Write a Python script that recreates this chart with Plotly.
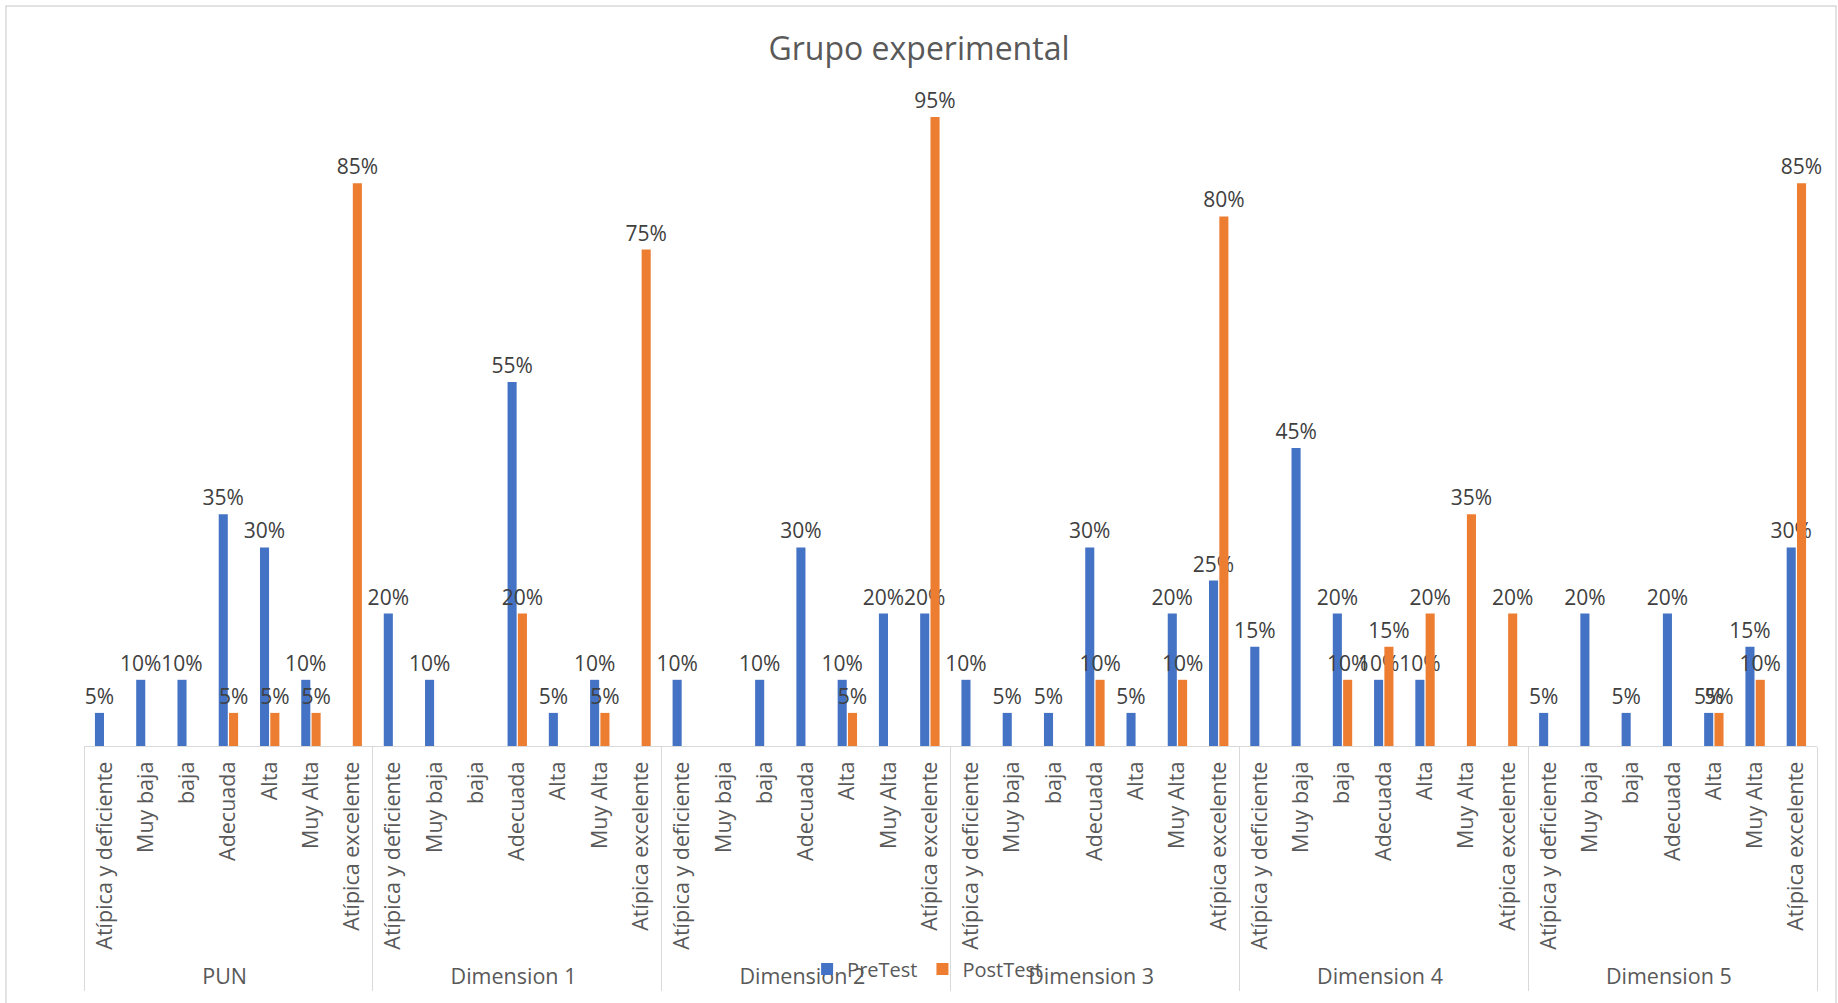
import plotly.graph_objects as go

groups = ["PUN", "Dimension 1", "Dimension 2", "Dimension 3", "Dimension 4", "Dimension 5"]
levels = ["Atípica y deficiente", "Muy baja", "baja", "Adecuada", "Alta", "Muy Alta", "Atípica excelente"]

# percentages per group, in order of levels (None = no bar / no label)
pretest_pun = [5, 10, 10, 35, 30, 10, None]
pretest_d1 = [20, 10, None, 55, 5, 10, None]
pretest_d2 = [10, None, 10, 30, 10, 20, 20]
pretest_d3 = [10, 5, 5, 30, 5, 20, 25]
pretest_d4 = [15, 45, 20, 10, 10, None, None]
pretest_d5 = [5, 20, 5, 20, 5, 15, 30]

posttest_pun = [None, None, None, 5, 5, 5, 85]
posttest_d1 = [None, None, None, 20, None, 5, 75]
posttest_d2 = [None, None, None, None, 5, None, 95]
posttest_d3 = [None, None, None, 10, None, 10, 80]
posttest_d4 = [None, None, 10, 15, 20, 35, 20]
posttest_d5 = [None, None, None, None, 5, 10, 85]

pretest = [pretest_pun, pretest_d1, pretest_d2, pretest_d3, pretest_d4, pretest_d5]
posttest = [posttest_pun, posttest_d1, posttest_d2, posttest_d3, posttest_d4, posttest_d5]

x_outer, x_inner, y_pre, y_post = [], [], [], []
for g, pre_vals, post_vals in zip(groups, pretest, posttest):
    for lv, a, b in zip(levels, pre_vals, post_vals):
        x_outer.append(g)
        x_inner.append(lv)
        y_pre.append(a)
        y_post.append(b)

FONT = "Open Sans"
LABEL_COLOR = "#404040"
AXIS_TEXT = "#595959"

fig = go.Figure()
fig.add_trace(go.Bar(
    name="PreTest", x=[x_outer, x_inner], y=y_pre,
    marker=dict(color="#4472C4", line=dict(width=0)),
    texttemplate="%{y}%", textposition="outside", constraintext="none",
    textfont=dict(family=FONT, size=21, color=LABEL_COLOR), cliponaxis=False,
))
fig.add_trace(go.Bar(
    name="PostTest", x=[x_outer, x_inner], y=y_post,
    marker=dict(color="#ED7D31", line=dict(width=0)),
    texttemplate="%{y}%", textposition="outside", constraintext="none",
    textfont=dict(family=FONT, size=21, color=LABEL_COLOR), cliponaxis=False,
))

fig.update_layout(
    width=1838, height=1003,
    margin=dict(l=84, r=21, t=84, b=257),
    paper_bgcolor="white", plot_bgcolor="white",
    barmode="group", bargap=0.5, bargroupgap=0.12,
    font=dict(family=FONT, color=AXIS_TEXT),
    title=dict(text="Grupo experimental", x=0.5, xref="container", xanchor="center",
               y=1 - 49 / 1003, yanchor="middle",
               font=dict(family=FONT, size=32, color=AXIS_TEXT)),
    legend=dict(orientation="h", x=0.4865, xanchor="center", y=-0.337, yanchor="middle",
                font=dict(family=FONT, size=20, color=AXIS_TEXT), bgcolor="rgba(0,0,0,0)"),
    xaxis=dict(type="multicategory", tickangle=-90, ticks="", showline=True,
               linecolor="#d9d9d9", linewidth=1, showgrid=False,
               showdividers=True, dividercolor="#d9d9d9", dividerwidth=1,
               ticklabelstandoff=6,
               tickfont=dict(family=FONT, size=21.5, color=AXIS_TEXT)),
    yaxis=dict(range=[0, 100], visible=False, showgrid=False, zeroline=False),
    shapes=[dict(type="rect", xref="paper", yref="paper",
                 x0=(6 - 84) / 1733, x1=(1836 - 84) / 1733,
                 y0=(746 - 1010) / 662, y1=(746 - 6) / 662,
                 line=dict(color="#d9d9d9", width=1.5), fillcolor="rgba(0,0,0,0)",
                 layer="below")],
)

fig.write_html("out.html")
